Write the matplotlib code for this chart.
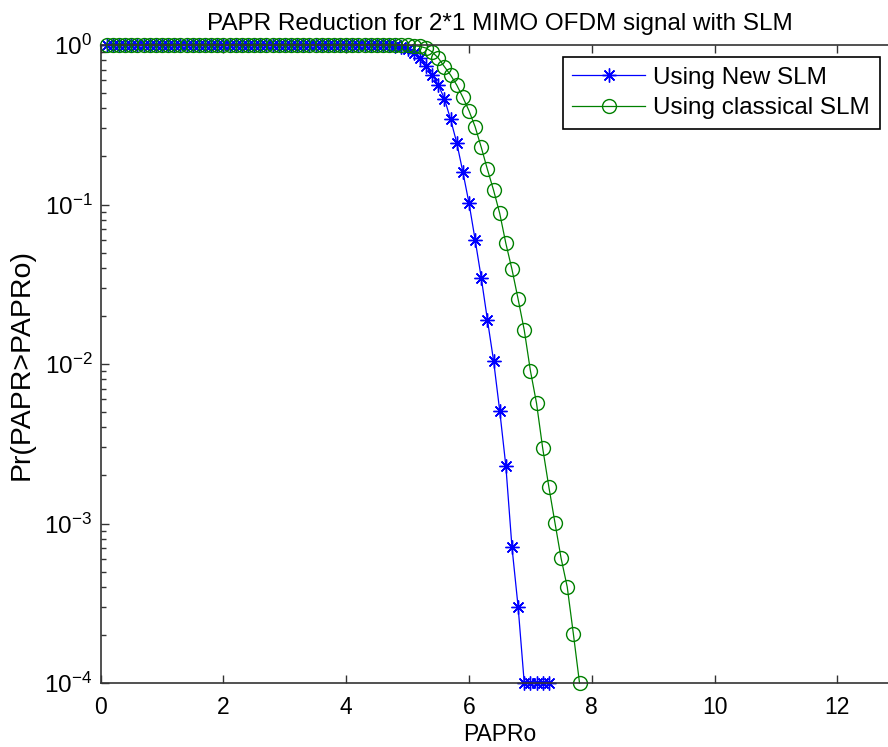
import numpy as np
import matplotlib
matplotlib.use("Agg")
import matplotlib.pyplot as plt
from matplotlib.ticker import LogLocator, NullFormatter

# ---- data ----
papr0_new = [round(0.1 * i, 1) for i in range(1, 74)]          # 0.1 .. 7.3
ccdf_new = [1.0] * 45 + [
    0.997, 0.993, 0.985, 0.97, 0.94,          # 4.6 .. 5.0
    0.887, 0.826, 0.74, 0.65, 0.562,          # 5.1 .. 5.5
    0.46, 0.342, 0.244, 0.16, 0.102,          # 5.6 .. 6.0
    0.060, 0.0346, 0.0189, 0.0105, 0.0051,    # 6.1 .. 6.5
    0.0023, 0.00071, 0.0003,                  # 6.6 .. 6.8
    1e-4, 1e-4, 1e-4, 1e-4, 1e-4,             # 6.9 .. 7.3
]
papr0_cls = [round(0.1 * i, 1) for i in range(1, 79)]          # 0.1 .. 7.8
ccdf_cls = [1.0] * 47 + [
    0.999, 0.998, 0.996,                      # 4.8 .. 5.0
    0.99, 0.98, 0.957, 0.904, 0.829,          # 5.1 .. 5.5
    0.731, 0.648, 0.561, 0.470, 0.387,        # 5.6 .. 6.0
    0.307, 0.228, 0.166, 0.123, 0.0881,       # 6.1 .. 6.5
    0.0571, 0.0392, 0.0255, 0.0163, 0.00908,  # 6.6 .. 7.0
    0.00567, 0.00297, 0.00170, 0.00101, 0.000605,  # 7.1 .. 7.5
    0.000400, 0.000203, 1e-4,                 # 7.6 .. 7.8
]
labels = ["Using New SLM", "Using classical SLM"]
title = "PAPR Reduction for 2*1 MIMO OFDM signal with SLM"
xlabel = "PAPRo"
ylabel = "Pr(PAPR>PAPRo)"
xticks = [0, 2, 4, 6, 8, 10, 12]

n1 = min(len(papr0_new), len(ccdf_new))
n2 = min(len(papr0_cls), len(ccdf_cls))

regular = ["Liberation Sans", "DejaVu Sans"]
plt.rcParams["font.family"] = regular
plt.rcParams["mathtext.fontset"] = "custom"
plt.rcParams["mathtext.rm"] = "Liberation Sans"
plt.rcParams["mathtext.it"] = "Liberation Sans:italic"
plt.rcParams["mathtext.bf"] = "Liberation Sans:bold"

fig = plt.figure(figsize=(8.88, 7.47), dpi=100)
ax = fig.add_axes([100.6 / 888, 64 / 747, 13 * 61.4 / 888, 638 / 747])

star = (8, 2, 0)
ax.semilogy(papr0_new[:n1], ccdf_new[:n1], color="#0000FF", lw=0.9,
            marker=star, ms=10, mew=1.0, label=labels[0], clip_on=False)
ax.semilogy(papr0_cls[:n2], ccdf_cls[:n2], color="#008000", lw=0.9,
            marker="o", ms=10, mew=1.0, mfc="none", label=labels[1], clip_on=False)

ax.set_xlim(0, 13)
ax.set_ylim(1e-4, 1)
ax.set_xticks(xticks)
ax.yaxis.set_major_locator(LogLocator(base=10, numticks=10))
ax.yaxis.set_minor_locator(LogLocator(base=10, subs=np.arange(2, 10), numticks=20))
ax.yaxis.set_minor_formatter(NullFormatter())
ax.tick_params(which="both", direction="in", top=True, right=True, width=1.0, color="#333333")
ax.tick_params(which="major", length=6)
ax.tick_params(which="minor", length=3.5)
ax.tick_params(axis="x", which="major", labelsize=16.5, pad=9)
ax.tick_params(axis="y", which="major", labelsize=17.5, pad=6)
for s in ax.spines.values():
    s.set_linewidth(1.2)
    s.set_color("#333333")

ax.set_title(title, fontsize=17.5, pad=11)
ax.set_xlabel(xlabel, fontsize=16.5, labelpad=3)
ax.set_ylabel(ylabel, fontsize=20.5, labelpad=7)

leg = ax.legend(loc="upper left", bbox_to_anchor=(0.579, 0.981), borderaxespad=0,
                prop={"family": regular, "size": 17.5}, fancybox=False,
                edgecolor="black", framealpha=1, handlelength=3.0,
                handletextpad=0.33, borderpad=0.4, labelspacing=0.35)
leg.get_frame().set_linewidth(1.2)

fig.savefig("out.png", dpi=100)
